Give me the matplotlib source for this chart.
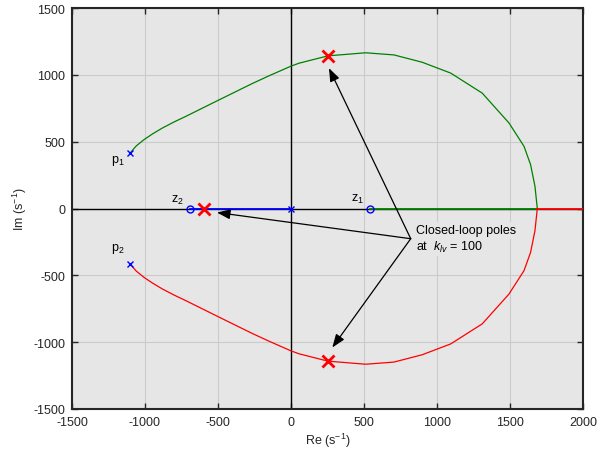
import matplotlib
matplotlib.use('Agg')
import matplotlib.pyplot as plt
import numpy as np

plt.rcParams['font.family'] = ['Liberation Sans', 'DejaVu Sans']
plt.rcParams['mathtext.fontset'] = 'custom'
plt.rcParams['mathtext.rm'] = 'Liberation Sans'
plt.rcParams['mathtext.it'] = 'Liberation Sans:italic'
plt.rcParams['axes.unicode_minus'] = False

# Upper branch: from p1 around the arc to the real-axis break-in point
re_upper = [-1100, -1060, -1007, -950, -881, -800, -721, -505, -265, -150, 0,
            55, 253, 511, 705, 899, 1094, 1310, 1493, 1596, 1641, 1671, 1687]
im_upper = [418, 468, 515, 557, 602, 648, 689, 806, 935, 993, 1065,
            1087, 1142, 1165, 1149, 1094, 1013, 863, 640, 465, 328, 166, 0]

# Real-axis segments
green_axis_re = [1687, 540]          # break-in point -> z1
red_axis_re = [1687, 2000]           # break-in point -> +inf
blue_axis_re = [0, -690]             # pole at origin -> z2

open_poles_re = [-1100, -1100, 0]
open_poles_im = [418, -418, 0]
zeros_re = [540, -690]
zeros_im = [0, 0]
cl_poles_re = [253, 253, -596]
cl_poles_im = [1142, -1142, 0]

labels = ['$\\mathrm{p}_1$', '$\\mathrm{p}_2$', '$\\mathrm{z}_1$', '$\\mathrm{z}_2$']
label_re = [-1185, -1185, 452, -781]
label_im = [366, -298, 75, 67]

arrow_tail = (820, -226)
arrow_heads = [(260, 1050), (-507, -30), (283, -1040)]

BG = '#e6e6e6'
GRID = '#cbcbcb'
FRAME = '#262626'

fig = plt.figure(figsize=(6.16, 4.52), dpi=100)
ax = fig.add_axes([72 / 616, 1 - 410 / 452, 511 / 616, 401 / 452])
ax.set_facecolor(BG)

ax.set_xlim(-1500, 2000)
ax.set_ylim(-1500, 1500)
ax.set_xticks(np.arange(-1500, 2001, 500))
ax.set_yticks(np.arange(-1500, 1501, 500))
ax.grid(True, color=GRID, linewidth=0.8, zorder=0)
ax.set_axisbelow(True)

# zero axes
ax.axhline(0, color='black', linewidth=1, zorder=1)
ax.axvline(0, color='black', linewidth=1, zorder=1)

re_up = np.array(re_upper)
im_up = np.array(im_upper)
ax.plot(re_up, im_up, color='#008000', linewidth=0.9, zorder=3)
ax.plot(green_axis_re, [0, 0], color='#008000', linewidth=1.3, zorder=3)
ax.plot(re_up, -im_up, color='#ff0000', linewidth=0.9, zorder=3)
ax.plot(red_axis_re, [0, 0], color='#ff0000', linewidth=1.3, zorder=3)
ax.plot(blue_axis_re, [0, 0], color='#0000ff', linewidth=1.3, zorder=3)

ax.plot(open_poles_re, open_poles_im, 'x', color='#0000ff', markersize=4,
        markeredgewidth=1, zorder=5)
ax.plot(zeros_re, zeros_im, 'o', color='#0000ff', markerfacecolor='none',
        markersize=5, markeredgewidth=1, zorder=5)
ax.plot(cl_poles_re, cl_poles_im, 'x', color='#ff0000', markersize=8,
        markeredgewidth=2, zorder=6)

for lab, xr, yi in zip(labels, label_re, label_im):
    ax.text(xr, yi, lab, ha='center', va='center', fontsize=9, zorder=4,
            bbox=dict(facecolor=BG, edgecolor='none', pad=0.5))

ax.text(856, -164, 'Closed-loop poles', ha='left', va='center', fontsize=9,
        zorder=2, bbox=dict(facecolor=BG, edgecolor='none', pad=1.5))
ax.text(856, -283, 'at  $k_{lv}$ = 100', ha='left', va='center', fontsize=9,
        zorder=2, bbox=dict(facecolor=BG, edgecolor='none', pad=1.5))

for head in arrow_heads:
    ax.annotate('', xy=head, xytext=arrow_tail, zorder=7,
                arrowprops=dict(arrowstyle='-|>,head_length=0.8,head_width=0.3',
                                color='black', lw=0.9, shrinkA=0, shrinkB=0,
                                mutation_scale=10))

for spine in ax.spines.values():
    spine.set_color(FRAME)
    spine.set_linewidth(1.5)
ax.tick_params(direction='in', length=4, width=1, color=FRAME,
               top=True, right=True, labelsize=9, labelcolor='#262626')
ax.tick_params(axis='x', pad=5)
ax.tick_params(axis='y', pad=5)

ax.set_xlabel('Re (s$^{-1}$)', fontsize=9, color='#262626', labelpad=2)
ax.set_ylabel('Im (s$^{-1}$)', fontsize=9, color='#262626', labelpad=3)

fig.savefig('out.png', dpi=100, facecolor='white')
